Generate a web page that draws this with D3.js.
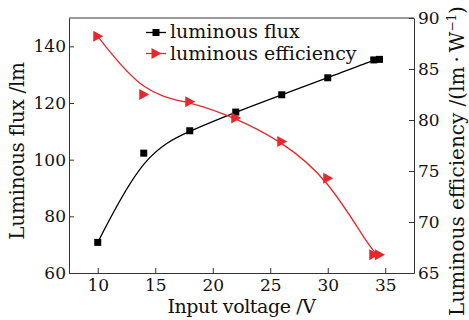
<!DOCTYPE html>
<html lang="en">
<head>
    <meta charset="UTF-8">
    <title>Luminous flux and efficiency vs input voltage</title>
    <script src="https://d3js.org/d3.v7.min.js"></script>
</head>

<style>
    body{
        margin: 0;
        background: white;
    }
    .axis path, .axis line {
        stroke: #333;
        stroke-width: 1;
    }
</style>
<body>

    <svg id="chart"></svg>

    <script>
    //Measured data
        const voltage = [10, 14, 18, 22, 26, 30, 34, 34.5];
        const flux = [70.8, 102.3, 110.2, 116.8, 122.9, 128.9, 135.2, 135.4];
        const efficiency = [88.2, 82.5, 81.8, 80.2, 77.9, 74.3, 66.8, 66.8];

        const xTicks = [10, 15, 20, 25, 30, 35];
        const fluxTicks = [60, 80, 100, 120, 140];
        const effTicks = [65, 70, 75, 80, 85, 90];

        const width = 469;
        const height = 320;
        const plotLeft = 69, plotRight = 414, plotTop = 18, plotBottom = 273;
        const red = '#e8262b';
        const serif = '"DejaVu Serif", "Noto Serif", "Liberation Serif", Tinos, Times, serif';

        const svg = d3.select('#chart')
            .attr('width', width)
            .attr('height', height);

    //Scales
        const x = d3.scaleLinear().domain([7.5, 37.5]).range([plotLeft, plotRight]);
        const yFlux = d3.scaleLinear().domain([60, 150]).range([plotBottom, plotTop]);
        const yEff = d3.scaleLinear().domain([65, 90]).range([plotBottom, plotTop]);

    //Frame and axes
        svg.append('line')
            .attr('x1', plotLeft).attr('x2', plotRight)
            .attr('y1', plotTop).attr('y2', plotTop)
            .attr('stroke', '#333');

        const styleTicks = g => g.selectAll('text')
            .style('font-family', serif)
            .style('font-size', '17px')
            .style('fill', '#111');

        svg.append('g')
            .attr('class', 'axis')
            .attr('transform', `translate(0,${plotBottom})`)
            .call(d3.axisBottom(x).tickValues(xTicks)
                .tickSizeInner(-5).tickSizeOuter(0).tickPadding(6))
            .call(styleTicks);

        svg.append('g')
            .attr('class', 'axis')
            .attr('transform', `translate(${plotLeft},0)`)
            .call(d3.axisLeft(yFlux).tickValues(fluxTicks)
                .tickSizeInner(-5).tickSizeOuter(0).tickPadding(3))
            .call(styleTicks);

        svg.append('g')
            .attr('class', 'axis')
            .attr('transform', `translate(${plotRight},0)`)
            .call(d3.axisRight(yEff).tickValues(effTicks)
                .tickSizeInner(-5).tickSizeOuter(0).tickPadding(4))
            .call(styleTicks);

        const label = (sel, size) => sel
            .style('font-family', serif)
            .style('font-size', size)
            .style('fill', '#111');

    //Axis titles
        svg.append('text')
            .attr('x', (plotLeft + plotRight) / 2)
            .attr('y', 313)
            .attr('text-anchor', 'middle')
            .style('letter-spacing', '-0.4px')
            .call(label, '19px')
            .text('Input voltage /V');

        svg.append('text')
            .attr('transform', 'translate(24,151) rotate(-90)')
            .attr('text-anchor', 'middle')
            .style('letter-spacing', '-0.3px')
            .call(label, '20px')
            .text('Luminous flux /lm');

        const effTitle = svg.append('text')
            .attr('transform', 'translate(464,161) rotate(-90)')
            .attr('text-anchor', 'middle')
            .call(label, '20px');
        effTitle.append('tspan').text('Luminous efficiency /(lm\u2009\u00b7\u2009W');
        effTitle.append('tspan').attr('dy', -8).style('font-size', '12px').text('\u22121');
        effTitle.append('tspan').attr('dy', 8).text(')');

    //Markers
        const triangle = (cx, cy) =>
            `M${cx - 4.5},${cy - 5.5}L${cx + 5.5},${cy}L${cx - 4.5},${cy + 5.5}Z`;

    //Curves
        const fluxLine = d3.line()
            .x((d, i) => x(voltage[i]))
            .y(d => yFlux(d))
            .curve(d3.curveBasis);

        const effLine = d3.line()
            .x((d, i) => x(voltage[i]))
            .y(d => yEff(d))
            .curve(d3.curveBasis);

        svg.append('path')
            .attr('d', fluxLine(flux))
            .attr('fill', 'none')
            .attr('stroke', '#000')
            .attr('stroke-width', 1.3);

        svg.append('path')
            .attr('d', effLine(efficiency))
            .attr('fill', 'none')
            .attr('stroke', red)
            .attr('stroke-width', 1.3);

        svg.selectAll('.fluxPoint')
            .data(flux)
            .enter().append('rect')
            .attr('class', 'fluxPoint')
            .attr('x', (d, i) => x(voltage[i]) - 3.5)
            .attr('y', d => yFlux(d) - 3.5)
            .attr('width', 7)
            .attr('height', 7)
            .attr('fill', '#000');

        svg.selectAll('.effPoint')
            .data(efficiency)
            .enter().append('path')
            .attr('class', 'effPoint')
            .attr('d', (d, i) => triangle(x(voltage[i]), yEff(d)))
            .attr('fill', red);

    //Legend
        const legend = svg.append('g');

        legend.append('line')
            .attr('x1', 146).attr('x2', 166)
            .attr('y1', 32.5).attr('y2', 32.5)
            .attr('stroke', '#000').attr('stroke-width', 1.3);
        legend.append('rect')
            .attr('x', 152.5).attr('y', 29).attr('width', 7).attr('height', 7)
            .attr('fill', '#000');
        legend.append('text')
            .attr('x', 170).attr('y', 38)
            .call(label, '19px')
            .text('luminous flux');

        legend.append('line')
            .attr('x1', 146).attr('x2', 166)
            .attr('y1', 53.5).attr('y2', 53.5)
            .attr('stroke', red).attr('stroke-width', 1.3);
        legend.append('path')
            .attr('d', triangle(156, 53.5))
            .attr('fill', red);
        legend.append('text')
            .attr('x', 170).attr('y', 60)
            .call(label, '19px')
            .text('luminous efficiency');

    </script>
</body>
</html>
